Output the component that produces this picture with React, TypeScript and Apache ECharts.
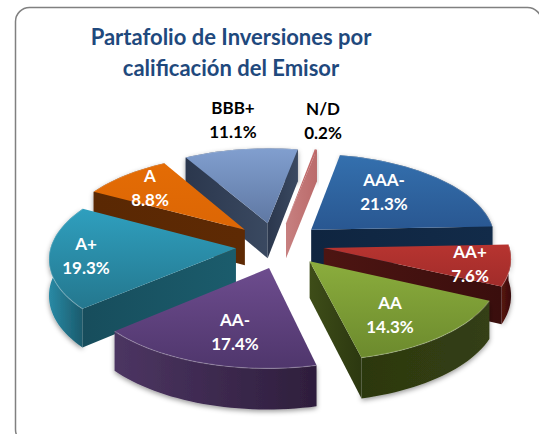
import React, { useEffect, useRef } from "react";
import * as echarts from "echarts";

const categories = ["AAA-", "AA+", "AA", "AA-", "A+", "A", "BBB+", "N/D"];
const shares = [21.3, 7.6, 14.3, 17.4, 19.3, 8.8, 11.1, 0.2];
const titleLines = ["Partafolio de Inversiones por", "calificación del Emisor"];

// projection of the tilted pie
const CX = 281, CY = 244, RX = 185, RY = 86, PERSP = 0.1, DEPTH = 36, START_DEG = 11;
const explodes = [0.24, 0.24, 0.24, 0.24, 0.255, 0.24, 0.24, 0.24];
const nudges = [[-3, -1], [-1, 0], [0, 1], [2, 4], [2, 2], [-5, 0], [-6, -1], [-3, -1]];
const drawOrder = [6, 7, 0, 5, 1, 4, 2, 3];

type Skin = { top: [string, string]; rim: [string, string]; face: [string, string]; text: string };
const skins: Skin[] = [
  { top: ["#3470ae", "#295791"], rim: ["#14304f", "#0e2138"], face: ["#0f2540", "#122b49"], text: "#fff" },
  { top: ["#b73430", "#a12c2a"], rim: ["#571512", "#3a0c0b"], face: ["#4d1512", "#3a0e0d"], text: "#fff" },
  { top: ["#8bad3d", "#6c8a2d"], rim: ["#2c3810", "#343f13"], face: ["#3e4d18", "#2c3810"], text: "#fff" },
  { top: ["#6d4c8e", "#4f366c"], rim: ["#4c3562", "#2e1e3c"], face: ["#3a2850", "#2e1e3c"], text: "#fff" },
  { top: ["#2f9fbe", "#24778e"], rim: ["#2a8aa5", "#1a5a6c"], face: ["#174d5c", "#1b5c6c"], text: "#fff" },
  { top: ["#e46c05", "#dc6605"], rim: ["#5a2803", "#6a3005"], face: ["#5a2803", "#5e2a04"], text: "#fff" },
  { top: ["#819fcf", "#5f78a3"], rim: ["#2e3b52", "#3a4a66"], face: ["#2b374d", "#3a4961"], text: "#000" },
  { top: ["#c26a6a", "#b95f5f"], rim: ["#a85555", "#a85555"], face: ["#c78080", "#bb6b6b"], text: "#000" },
];
const labelAnchors = [
  [384, 191], [470, 263], [390, 314], [235, 331], [86, 255], [150, 187], [233, 119], [323, 120],
];

const rad = (d: number) => (d * Math.PI) / 180;
const totals = shares.reduce((a, b) => a + b, 0);

function sliceSpan(i: number) {
  let before = 0;
  for (let k = 0; k < i; k++) before += shares[k];
  const a0 = START_DEG + (before / totals) * 360;
  const a1 = a0 + (shares[i] / totals) * 360;
  return [a0, a1];
}
const vGrad = (c: [string, string]) => ({ type: "linear", x: 0, y: 0, x2: 0, y2: 1, colorStops: [{ offset: 0, color: c[0] }, { offset: 1, color: c[1] }] });
const hGrad = (c: [string, string]) => ({ type: "linear", x: 0, y: 0, x2: 1, y2: 0, colorStops: [{ offset: 0, color: c[0] }, { offset: 1, color: c[1] }] });

function renderSlice(params: any, api: any) {
  const i = api.value(0) as number;
  const [a0, a1] = sliceSpan(i);
  const mid = rad((a0 + a1) / 2);
  const e = explodes[i];
  const ax = e * Math.sin(mid), ay = -e * Math.cos(mid);
  const project = (X: number, Y: number, down = 0): [number, number] => {
    const s = 1 / (1 - PERSP * Y);
    return [CX + nudges[i][0] + RX * X * s, CY + nudges[i][1] + (RY * Y + down) * s];
  };
  const rimPt = (deg: number, down: number) => project(ax + Math.sin(rad(deg)), ay - Math.cos(rad(deg)), down);
  const n = Math.max(2, Math.ceil((a1 - a0) / 2));
  const top: [number, number][] = [];
  const bottom: [number, number][] = [];
  for (let k = 0; k <= n; k++) {
    const d = a0 + ((a1 - a0) * k) / n;
    top.push(rimPt(d, 0));
    bottom.push(rimPt(d, DEPTH));
  }
  const apexTop = project(ax, ay, 0), apexBottom = project(ax, ay, DEPTH);
  const skin = skins[i];
  const z = drawOrder.indexOf(i) * 10;
  const children: any[] = [];
  const shadow = { shadowBlur: 5, shadowColor: "rgba(0,0,0,0.4)", shadowOffsetY: 2 };
  children.push({
    type: "polygon", z2: z,
    shape: { points: [...top, ...bottom.slice().reverse()] },
    style: { fill: hGrad(skin.rim), ...shadow },
  });
  if (Math.sin(rad(a0)) < 0) {
    children.push({
      type: "polygon", z2: z + 1,
      shape: { points: [apexTop, top[0], bottom[0], apexBottom] },
      style: { fill: hGrad(skin.face) },
    });
  }
  if (Math.sin(rad(a1)) > 0) {
    children.push({
      type: "polygon", z2: z + 1,
      shape: { points: [apexTop, top[n], bottom[n], apexBottom] },
      style: { fill: hGrad(skin.face) },
    });
  }
  children.push({
    type: "polygon", z2: z + 2,
    shape: { points: [apexTop, ...top] },
    style: { fill: vGrad(skin.top) },
  });
  children.push({
    type: "polyline", z2: z + 3,
    shape: { points: top },
    style: { fill: "none", stroke: "rgba(255,255,255,0.22)", lineWidth: 1.2 },
  });
  children.push({
    type: "text", z2: 200,
    x: labelAnchors[i][0], y: labelAnchors[i][1],
    style: {
      text: `${categories[i]}\n${shares[i].toFixed(1)}%`,
      fill: skin.text, align: "center", verticalAlign: "middle",
      font: 'bold 17px Lato', lineHeight: 24,
    },
  });
  return { type: "group", children };
}

export default function App() {
  const ref = useRef<HTMLDivElement>(null);
  useEffect(() => {
    const chart = echarts.init(ref.current!, undefined, { renderer: "svg" });
    chart.setOption({
      animation: false,
      backgroundColor: "#fff",
      title: {
        text: titleLines.join("\n"),
        left: 226, top: 16, textAlign: "center",
        textStyle: { fontFamily: "Lato", fontWeight: "bold", fontSize: 22, lineHeight: 31, color: "#1f497d" },
      },
      graphic: [{
        type: "rect", z: -1,
        shape: { x: 15.5, y: 7.5, width: 526, height: 436, r: 14 },
        style: { fill: "none", stroke: "#808080", lineWidth: 1.5 },
      }],
      series: [{
        type: "custom",
        coordinateSystem: "none",
        data: drawOrder.map((i) => [i]),
        encode: { value: 0 },
        renderItem: renderSlice,
      }],
    });
    return () => chart.dispose();
  }, []);
  return <div ref={ref} style={{ position: "absolute", left: 0, top: 0, width: 539, height: 434 }} />;
}
